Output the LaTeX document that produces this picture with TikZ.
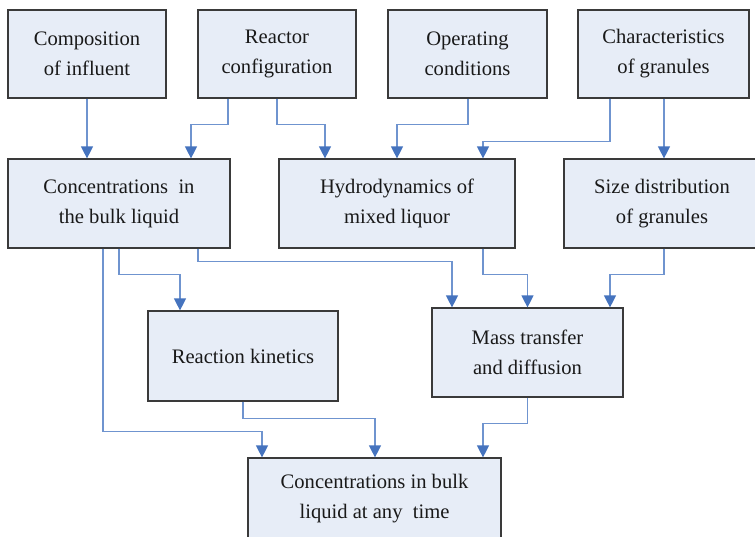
\documentclass[tikz,border=0pt]{standalone}
\usepackage{fontspec}
\setmainfont{Liberation Serif}
\usetikzlibrary{arrows.meta}
\definecolor{boxfill}{HTML}{E7EDF7}
\definecolor{boxline}{HTML}{3A3A3A}
\definecolor{flowline}{HTML}{6F94CF}
\definecolor{flowhead}{HTML}{4573BE}
\tikzset{
    factor/.style={draw=boxline, fill=boxfill, line width=1.2pt, align=center,
        inner sep=0pt, font=\fontsize{20.6}{30}\selectfont, text=black!90},
    flow/.style={draw=flowline, line width=1.2pt,
        -{Triangle[width=12pt,length=12pt,color=flowhead]}}
}
\begin{document}
\begin{tikzpicture}[x=1pt, y=-1pt]
    \useasboundingbox[fill=white] (0,0) rectangle (755,536);
    % top row
    \node[factor, minimum width=158pt, minimum height=88pt] (comp) at (87,54) {Composition\\of influent};
    \node[factor, minimum width=158pt, minimum height=88pt] (reactor) at (277,54) {Reactor\\configuration};
    \node[factor, minimum width=159pt, minimum height=88pt] (oper) at (467.5,54) {Operating\\conditions};
    \node[factor, minimum width=171pt, minimum height=88pt] (charac) at (663.5,54) {Characteristics\\of granules};
    % second row
    \node[factor, minimum width=222pt, minimum height=89pt] (bulk) at (119,203.5) {Concentrations\ \ in\\the bulk liquid};
    \node[factor, minimum width=236pt, minimum height=89pt] (hydro) at (397,203.5) {Hydrodynamics of\\mixed liquor};
    \node[factor, minimum width=196pt, minimum height=89pt] (sizedist) at (662,203.5) {Size distribution\\of granules};
    % third row
    \node[factor, minimum width=190pt, minimum height=90pt] (kinetics) at (243,356) {Reaction kinetics};
    \node[factor, minimum width=191pt, minimum height=89pt] (mass) at (527.5,352.5) {Mass transfer\\and diffusion};
    % result
    \node[factor, minimum width=253pt, minimum height=81pt] (final) at (374.5,498.5) {Concentrations in bulk\\liquid at any\ \ time};
    % connectors
    \draw[flow] (comp.south) -- (comp.south |- bulk.north);
    \draw[flow] ([xshift=-49pt]reactor.south) -- ++(0,26) -| ([xshift=72pt]bulk.north);
    \draw[flow] (reactor.south) -- ++(0,26) -| ([xshift=-72pt]hydro.north);
    \draw[flow] ([xshift=0.5pt]oper.south) -- ++(0,26) -| (hydro.north);
    \draw[flow] ([xshift=-53.5pt]charac.south) -- ++(0,43) -| ([xshift=86pt]hydro.north);
    \draw[flow] ([xshift=0.5pt]charac.south) -- ([xshift=2pt]sizedist.north);
    \draw[flow] ([xshift=-16pt]bulk.south) -- ++(0,183) -| ([xshift=-112.5pt]final.north);
    \draw[flow] (bulk.south) -- ++(0,26) -| ([xshift=-63pt]kinetics.north);
    \draw[flow] ([xshift=79pt]bulk.south) -- ++(0,13) -| ([xshift=-75.5pt]mass.north);
    \draw[flow] ([xshift=86pt]hydro.south) -- ++(0,26) -| (mass.north);
    \draw[flow] ([xshift=2pt]sizedist.south) -- ++(0,26) -| ([xshift=82.5pt]mass.north);
    \draw[flow] (kinetics.south) -- ++(0,17) -| ([xshift=0.5pt]final.north);
    \draw[flow] (mass.south) -- ++(0,26) -| ([xshift=108.5pt]final.north);
\end{tikzpicture}
\end{document}
